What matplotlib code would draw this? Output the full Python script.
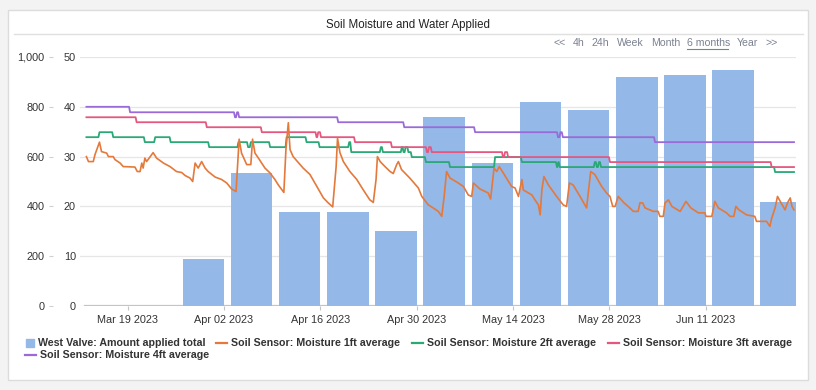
import numpy as np
import matplotlib
matplotlib.use('Agg')
import matplotlib.pyplot as plt
import matplotlib.dates as mdates
from matplotlib.patches import Rectangle
from matplotlib.lines import Line2D
from matplotlib.ticker import FuncFormatter, FixedLocator

plt.rcParams['font.family'] = ['Liberation Sans', 'DejaVu Sans']

# --- data ---
base = np.datetime64('2023-03-13T00:00')

# weekly water applied (left outer axis)
bar_dates = ['2023-03-16', '2023-03-23', '2023-03-30', '2023-04-06', '2023-04-13',
             '2023-04-20', '2023-04-27', '2023-05-04', '2023-05-11', '2023-05-18',
             '2023-05-25', '2023-06-01', '2023-06-08', '2023-06-15', '2023-06-22']
bar_vals = [0, 0, 188, 534, 377, 377, 300, 759, 574, 820, 786, 920, 928, 946, 416]

# moisture 1ft (days since Mar 13 2023)
t_1ft = [0.0, 0.3, 1.0, 1.25, 1.9, 2.2, 2.95, 3.2, 3.9, 4.15,
         4.9, 5.35, 7.05, 7.4, 7.8, 8.05, 8.25, 8.5, 8.75, 9.7,
         10.2, 11.2, 12.15, 13.1, 13.85, 14.35, 15.05, 15.45, 15.8, 16.25,
         16.75, 17.25, 17.7, 18.7, 19.65, 20.4, 21.1, 21.75, 22.2, 22.55,
         23.3, 23.9, 24.15, 24.5, 25.0, 25.95, 26.7, 27.4, 27.9, 28.7,
         29.0, 29.35, 29.6, 30.05, 31.5, 32.5, 33.5, 34.45, 35.15, 35.8,
         36.3, 36.5, 36.85, 37.35, 38.3, 39.3, 40.25, 41.2, 41.7, 42.1,
         42.3, 42.7, 43.4, 44.15, 44.6, 45.1, 45.35, 45.8, 47.0, 48.25,
         48.75, 49.7, 50.4, 51.15, 51.65, 52.0, 52.35, 52.85, 54.05, 54.8,
         55.5, 56.0, 56.25, 57.2, 58.4, 58.75, 59.25, 59.65, 60.0, 60.6,
         61.8, 62.3, 62.8, 63.3, 63.5, 64.75, 65.2, 65.7, 65.95, 66.2,
         66.5, 67.15, 68.35, 69.3, 69.8, 70.2, 70.75, 71.75, 72.7, 73.1,
         73.3, 73.9, 74.9, 75.6, 76.1, 76.5, 76.85, 77.3, 78.15, 78.75,
         79.5, 80.2, 80.45, 80.85, 81.2, 82.4, 83.1, 83.35, 83.85, 84.1,
         84.6, 85.1, 86.3, 87.15, 87.85, 88.95, 89.9, 90.05, 90.9, 91.35,
         91.85, 93.05, 93.55, 94.1, 94.4, 94.85, 95.95, 97.15, 97.4, 98.85,
         99.35, 99.6, 100.1, 100.45, 100.85, 101.55, 101.9, 102.3, 102.55, 102.85]
m_1ft = [30.0, 29.0, 29.0, 30.4, 32.9, 31.0, 30.7, 30.0, 30.0, 29.4,
         28.7, 28.0, 27.9, 27.0, 27.0, 28.7, 27.7, 29.7, 29.0, 30.8,
         29.7, 28.7, 28.0, 27.0, 26.8, 26.2, 25.7, 25.0, 28.7, 27.7,
         29.0, 27.7, 27.0, 25.9, 25.4, 24.7, 23.5, 23.0, 33.5, 30.7,
         28.4, 28.4, 33.5, 30.7, 29.7, 27.7, 26.7, 25.4, 24.3, 22.8,
         31.4, 36.8, 31.4, 30.0, 27.7, 26.4, 24.0, 21.7, 20.7, 19.9,
         28.0, 33.7, 30.8, 29.0, 27.0, 25.4, 23.3, 21.3, 20.8, 25.4,
         30.0, 29.0, 28.0, 27.0, 26.6, 28.4, 29.0, 27.4, 25.7, 23.7,
         22.0, 20.3, 19.7, 19.0, 18.0, 22.0, 27.0, 25.7, 24.7, 24.0,
         22.3, 22.0, 24.7, 23.5, 22.7, 21.5, 27.7, 27.0, 28.0, 26.7,
         24.0, 23.7, 22.0, 25.4, 23.3, 22.3, 21.3, 20.3, 18.3, 23.3,
         26.0, 24.3, 22.0, 20.3, 20.0, 24.7, 24.3, 22.0, 19.7, 24.7,
         27.0, 26.4, 24.0, 22.7, 22.0, 20.0, 20.0, 22.0, 20.7, 20.0,
         19.0, 19.0, 20.7, 20.7, 19.7, 19.0, 19.0, 18.0, 18.0, 20.7,
         21.3, 20.0, 19.0, 21.0, 19.7, 18.7, 18.7, 18.0, 18.0, 21.0,
         19.7, 18.7, 18.0, 18.0, 20.0, 19.3, 18.3, 18.0, 17.0, 17.0,
         16.0, 17.6, 19.7, 22.0, 21.0, 19.3, 20.7, 21.7, 20.0, 19.3]

# deeper sensors change in steps
t_2ft = [0, 1.9, 3.9, 8.5, 10.0, 12.25, 17.85, 22.1, 23.5, 23.9,
         26.7, 29.1, 32.0, 33.9, 38.2, 38.5, 42.8, 43.1, 45.85, 46.1,
         46.4, 46.8, 47.3, 49.35, 52.85, 59.4, 63.3, 68.4, 68.6, 68.8,
         73.9, 74.2, 74.5, 74.8, 100.1, 102.85]
m_2ft = [33.9, 34.9, 33.9, 32.9, 33.9, 32.9, 31.9, 32.9, 31.9, 32.9,
         31.9, 33.9, 32.9, 31.9, 32.9, 30.9, 31.9, 30.9, 31.9, 30.9,
         31.9, 30.9, 29.9, 28.9, 27.9, 29.9, 28.9, 27.9, 28.9, 27.9,
         28.9, 27.9, 28.9, 27.9, 26.9, 26.9]

t_3ft = [0, 7.3, 17.5, 25.5, 33.45, 33.7, 34.1, 39.05, 44.4, 49.5,
         49.8, 50.2, 60.55, 60.85, 61.3, 76.1, 99.6, 102.85]
m_3ft = [37.9, 36.9, 35.9, 34.9, 33.9, 34.9, 33.9, 32.9, 31.9, 30.9,
         31.9, 30.9, 29.9, 30.9, 29.9, 28.9, 27.9, 27.9]

t_4ft = [0, 6.35, 21.6, 21.9, 22.2, 36.6, 46.2, 56.5, 68.55, 68.9,
         69.25, 82.65, 102.85]
m_4ft = [40.0, 38.9, 37.9, 38.9, 37.9, 36.9, 35.9, 34.9, 33.9, 34.9,
         33.9, 32.9, 32.9]

tick_dates = ['2023-03-19', '2023-04-02', '2023-04-16', '2023-04-30',
              '2023-05-14', '2023-05-28', '2023-06-11']

labels = ['West Valve: Amount applied total', 'Soil Sensor: Moisture 1ft average',
          'Soil Sensor: Moisture 2ft average', 'Soil Sensor: Moisture 3ft average',
          'Soil Sensor: Moisture 4ft average']
colors = ['#94b8e8', '#e4793b', '#2aa876', '#e5577f', '#9a6ad8']


def to_dt(days):
    return base + (np.array(days) * 86400).astype('timedelta64[s]')


def ramp(t, v, dt=0.15):
    # step series: hold each level, short slanted change to the next one
    xs, ys = [t[0]], [v[0]]
    for i in range(1, len(t)):
        xs += [t[i] - dt, t[i]] if t[i] - dt > xs[-1] else [t[i]]
        ys += [v[i - 1], v[i]] if len(xs) - len(ys) == 2 else [v[i]]
    return to_dt(xs), ys


# --- figure ---
W, H = 816, 390
fig = plt.figure(figsize=(W / 100, H / 100), dpi=100)
fig.patch.set_facecolor('#f3f3f3')

def fx(px):
    return px / W

def fy(py):
    return 1 - py / H

fig.patches.append(Rectangle((fx(8), fy(380)), fx(800), 370 / H, transform=fig.transFigure,
                             facecolor='white', edgecolor='#dcdcdc', lw=1, zorder=-10))
fig.lines.append(Line2D([fx(14), fx(803)], [fy(34), fy(34)], transform=fig.transFigure,
                        color='#e0e0e0', lw=1))
fig.text(fx(408), fy(25), 'Soil Moisture and Water Applied', ha='center', va='center',
         fontsize=8.3, color='#222')

# range links
nav = [('<<', 553), ('4h', 573), ('24h', 592), ('Week', 617), ('Month', 651),
       ('6 months', 687), ('Year', 737), ('>>', 765)]
for s, x in nav:
    fig.text(fx(x), fy(43), s, ha='left', va='center', fontsize=7.6, color='#7b8191')
fig.lines.append(Line2D([fx(687), fx(728)], [fy(49), fy(49)], transform=fig.transFigure,
                        color='#7b8191', lw=0.8))

ax = fig.add_axes([fx(80), 84 / H, 716 / W, 249 / H])
ax.patch.set_alpha(0)
ax2 = ax.twinx()

ax.bar(np.array(bar_dates, dtype='datetime64[s]'), bar_vals, width=6.05,
       color=colors[0], zorder=2)
ax.axhline(0, xmin=5 / 716, color='#c4c4c4', lw=1.6, zorder=1)

ax2.plot(to_dt(t_1ft), m_1ft, color=colors[1], lw=1.2, zorder=3)
for tt, mm, c in [(t_2ft, m_2ft, colors[2]), (t_3ft, m_3ft, colors[3]),
                  (t_4ft, m_4ft, colors[4])]:
    xs, ys = ramp(tt, mm)
    ax2.plot(xs, ys, color=c, lw=1.3)

ax.set_xlim(to_dt([-0.93])[0], to_dt([103.14])[0])
ax.set_ylim(0, 1000)
ax2.set_ylim(0, 50)

for a in (ax, ax2):
    for sp in a.spines.values():
        sp.set_visible(False)

ax.yaxis.set_major_locator(FixedLocator([0, 200, 400, 600, 800, 1000]))
ax.yaxis.set_major_formatter(FuncFormatter(lambda v, p: f'{v:,.0f}'))
ax.spines['left'].set_position(('outward', 19.4))
ax.tick_params(axis='y', length=3, width=0.8, color='#d0d0d0', pad=3,
               labelsize=7.8, labelcolor='#333')
ax.grid(axis='y', color='#e6e6e6', lw=0.9, zorder=0)
ax.set_axisbelow(True)

ax2.yaxis.set_major_locator(FixedLocator([0, 10, 20, 30, 40, 50]))
ax2.yaxis.tick_left()
ax2.tick_params(axis='y', length=0, pad=3, labelsize=7.8, labelcolor='#333')

ax.xaxis.set_major_locator(FixedLocator(mdates.date2num(np.array(tick_dates, dtype='datetime64[s]'))))
ax.xaxis.set_major_formatter(mdates.DateFormatter('%b %d %Y'))
ax.tick_params(axis='x', length=3, width=0.8, color='#c4c4c4', pad=3.5,
               labelsize=7.8, labelcolor='#333')

# legend, laid out in rows like the original
leg = [(0, 26, 343, 38), (1, 216, 343, 231), (2, 412, 343, 427),
       (3, 608, 343, 623), (4, 25, 355, 40)]
for i, x0, y0, xt in leg:
    if i == 0:
        fig.patches.append(Rectangle((fx(x0), fy(y0 + 4)), 8 / W, 8 / H,
                                     transform=fig.transFigure, color=colors[0]))
    else:
        fig.lines.append(Line2D([fx(x0), fx(x0 + 11)], [fy(y0), fy(y0)],
                                transform=fig.transFigure, color=colors[i], lw=1.6))
    fig.text(fx(xt), fy(y0), labels[i], ha='left', va='center', fontsize=7.7,
             fontweight='bold', color='#333')

fig.savefig('out.png', dpi=100, facecolor=fig.get_facecolor())
